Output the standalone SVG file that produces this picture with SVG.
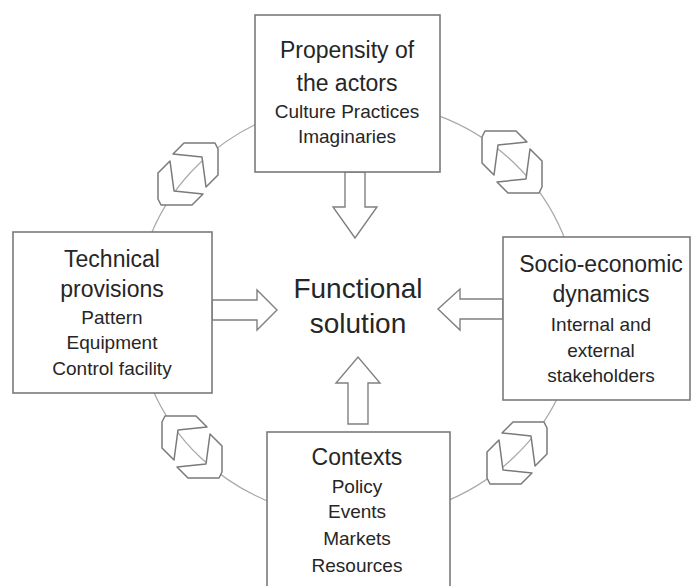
<svg xmlns="http://www.w3.org/2000/svg" xmlns:xlink="http://www.w3.org/1999/xlink" width="691" height="586" viewBox="0 0 691 586">
<style>
.box{fill:#fff;stroke:#7a7a7a;stroke-width:1.6}
.ring{fill:none;stroke:#a8a8a8;stroke-width:1.2}
.blk{fill:#fff;stroke:#808080;stroke-width:1.4;stroke-linejoin:miter}
.chev{fill:#fff;stroke:#7a7a7a;stroke-width:1.5;stroke-linejoin:round}
text{font-family:"Liberation Sans",Arial,sans-serif;fill:#262626;text-anchor:middle}
.t{font-size:23px}
.s{font-size:19px}
.c{font-size:28px}
</style>
<defs>
<polygon id="ch" class="chev" points="-15,-20 -4,-31 27,-31 30,-25 30,1 18,13 14,-17"/>
<g id="pair">
<use xlink:href="#ch" href="#ch"/>
<use xlink:href="#ch" href="#ch" transform="rotate(180)"/>
</g>
</defs>
<rect width="691" height="586" fill="#fff"/>
<g id="connectors">
<ellipse class="ring" cx="357" cy="310" rx="221" ry="209"/>
<use xlink:href="#pair" href="#pair" transform="translate(188,174)"/>
<use xlink:href="#pair" href="#pair" transform="translate(512,162) scale(-1,1)"/>
<use xlink:href="#pair" href="#pair" transform="translate(192,447) scale(-1,1)"/>
<use xlink:href="#pair" href="#pair" transform="translate(517,453)"/>
<polygon class="blk" points="345,172 365,172 365,207 377,207 355,238 333,207 345,207"/>
<polygon class="blk" points="212,300 257,300 257,290 277,310 257,330 257,320 212,320"/>
<polygon class="blk" points="503,299 460,299 460,289 438,309 460,330 460,319 503,319"/>
<polygon class="blk" points="348,424 368,424 368,383 380,383 358,357 336,383 348,383"/>
</g>
<g id="top">
<rect class="box" x="255" y="15" width="185" height="157"/>
<text class="t" x="347" y="58">Propensity of</text>
<text class="t" x="347" y="91">the actors</text>
<text class="s" x="347" y="118">Culture Practices</text>
<text class="s" x="347" y="143">Imaginaries</text>
</g>
<g id="left">
<rect class="box" x="13" y="232" width="199" height="161"/>
<text class="t" x="112" y="267">Technical</text>
<text class="t" x="112" y="297">provisions</text>
<text class="s" x="112" y="324">Pattern</text>
<text class="s" x="112" y="349">Equipment</text>
<text class="s" x="112" y="375">Control facility</text>
</g>
<g id="right">
<rect class="box" x="503" y="237" width="187" height="163"/>
<text class="t" x="601" y="272">Socio-economic</text>
<text class="t" x="601" y="302">dynamics</text>
<text class="s" x="601" y="331">Internal and</text>
<text class="s" x="601" y="357">external</text>
<text class="s" x="601" y="382">stakeholders</text>
</g>
<g id="bottom">
<rect class="box" x="267" y="432" width="183" height="160"/>
<text class="t" x="357" y="465">Contexts</text>
<text class="s" x="357" y="493">Policy</text>
<text class="s" x="357" y="518">Events</text>
<text class="s" x="357" y="545">Markets</text>
<text class="s" x="357" y="572">Resources</text>
</g>
<g id="center">
<text class="c" x="358" y="298">Functional</text>
<text class="c" x="358" y="333">solution</text>
</g>
</svg>
